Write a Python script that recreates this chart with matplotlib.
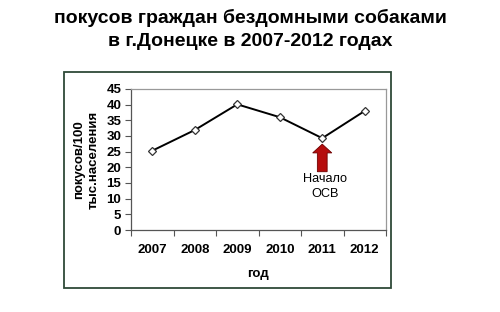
import matplotlib
matplotlib.use("Agg")
import matplotlib.pyplot as plt
from matplotlib.patches import Rectangle, FancyArrow

years = ["2007", "2008", "2009", "2010", "2011", "2012"]
bites = [25.3, 31.9, 40.1, 36.0, 29.3, 38.0]
yticks = [0, 5, 10, 15, 20, 25, 30, 35, 40, 45]
title_lines = ["покусов граждан бездомными собаками", "в г.Донецке в 2007-2012 годах"]
ylabel = "покусов/100\nтыс.населения"
xlabel = "год"
note = "Начало\nОСВ"
note_index = 4

plt.rcParams['font.family'] = ['Liberation Sans', 'DejaVu Sans']

fig = plt.figure(figsize=(5.0, 3.12), dpi=100)
fig.patch.set_facecolor('white')

# outer chart frame
fig.patches.append(Rectangle((0.127, 0.077), 0.655, 0.692, transform=fig.transFigure,
                             fill=False, edgecolor='#2f4a38', linewidth=1.3))

fig.text(0.5, 1 - 17.5/312, title_lines[0], ha='center', va='center', fontsize=14.0, fontweight='bold')
fig.text(0.5, 1 - 42/312, title_lines[1], ha='center', va='center', fontsize=14.0, fontweight='bold')

ax = fig.add_axes([0.262, 0.2628, 0.51, 0.452])
x = list(range(len(years)))
ax.plot(x, bites, color='black', linewidth=1.4, marker='D', markersize=4.5,
        markerfacecolor='white', markeredgecolor='#333333', markeredgewidth=0.9, zorder=3)

ax.set_xlim(-0.5, len(years) - 0.5)
ax.set_ylim(0, 45)
ax.set_yticks(yticks)
ax.set_yticklabels([str(t) for t in yticks], fontsize=9.5, fontweight='bold')
ax.set_xticks([i + 0.5 for i in range(-1, len(years))], minor=False)
ax.set_xticklabels([])
ax.set_xticks(x, minor=True)
ax.set_xticklabels(years, minor=True, fontsize=9.5, fontweight='bold')
ax.tick_params(axis='x', which='major', length=4, direction='out', color='#555555')
ax.tick_params(axis='x', which='minor', length=0, pad=10)
ax.tick_params(axis='y', length=4, direction='out', color='#555555', pad=3)

for s in ['top', 'right']:
    ax.spines[s].set_color('#999999')
    ax.spines[s].set_linewidth(0.9)
for s in ['left', 'bottom']:
    ax.spines[s].set_color('#555555')
    ax.spines[s].set_linewidth(0.9)

ax.set_ylabel(ylabel, fontsize=9.5, fontweight='bold', labelpad=5, linespacing=1.25)
ax.set_xlabel(xlabel, fontsize=9.5, fontweight='bold', labelpad=9)

# red arrow pointing up at the note year
tip = bites[note_index] - 1.9
arrow = FancyArrow(note_index, tip - 8.8, 0, 8.8, width=0.23, head_width=0.45,
                   head_length=2.8, length_includes_head=True,
                   facecolor='#b50d0d', edgecolor='#6e0000', linewidth=0.6, zorder=4)
ax.add_patch(arrow)
ax.text(note_index + 0.07, tip - 13.5, note, ha='center', va='center', fontsize=9.2,
        linespacing=1.3)

fig.savefig('out.png', dpi=100, facecolor='white')
